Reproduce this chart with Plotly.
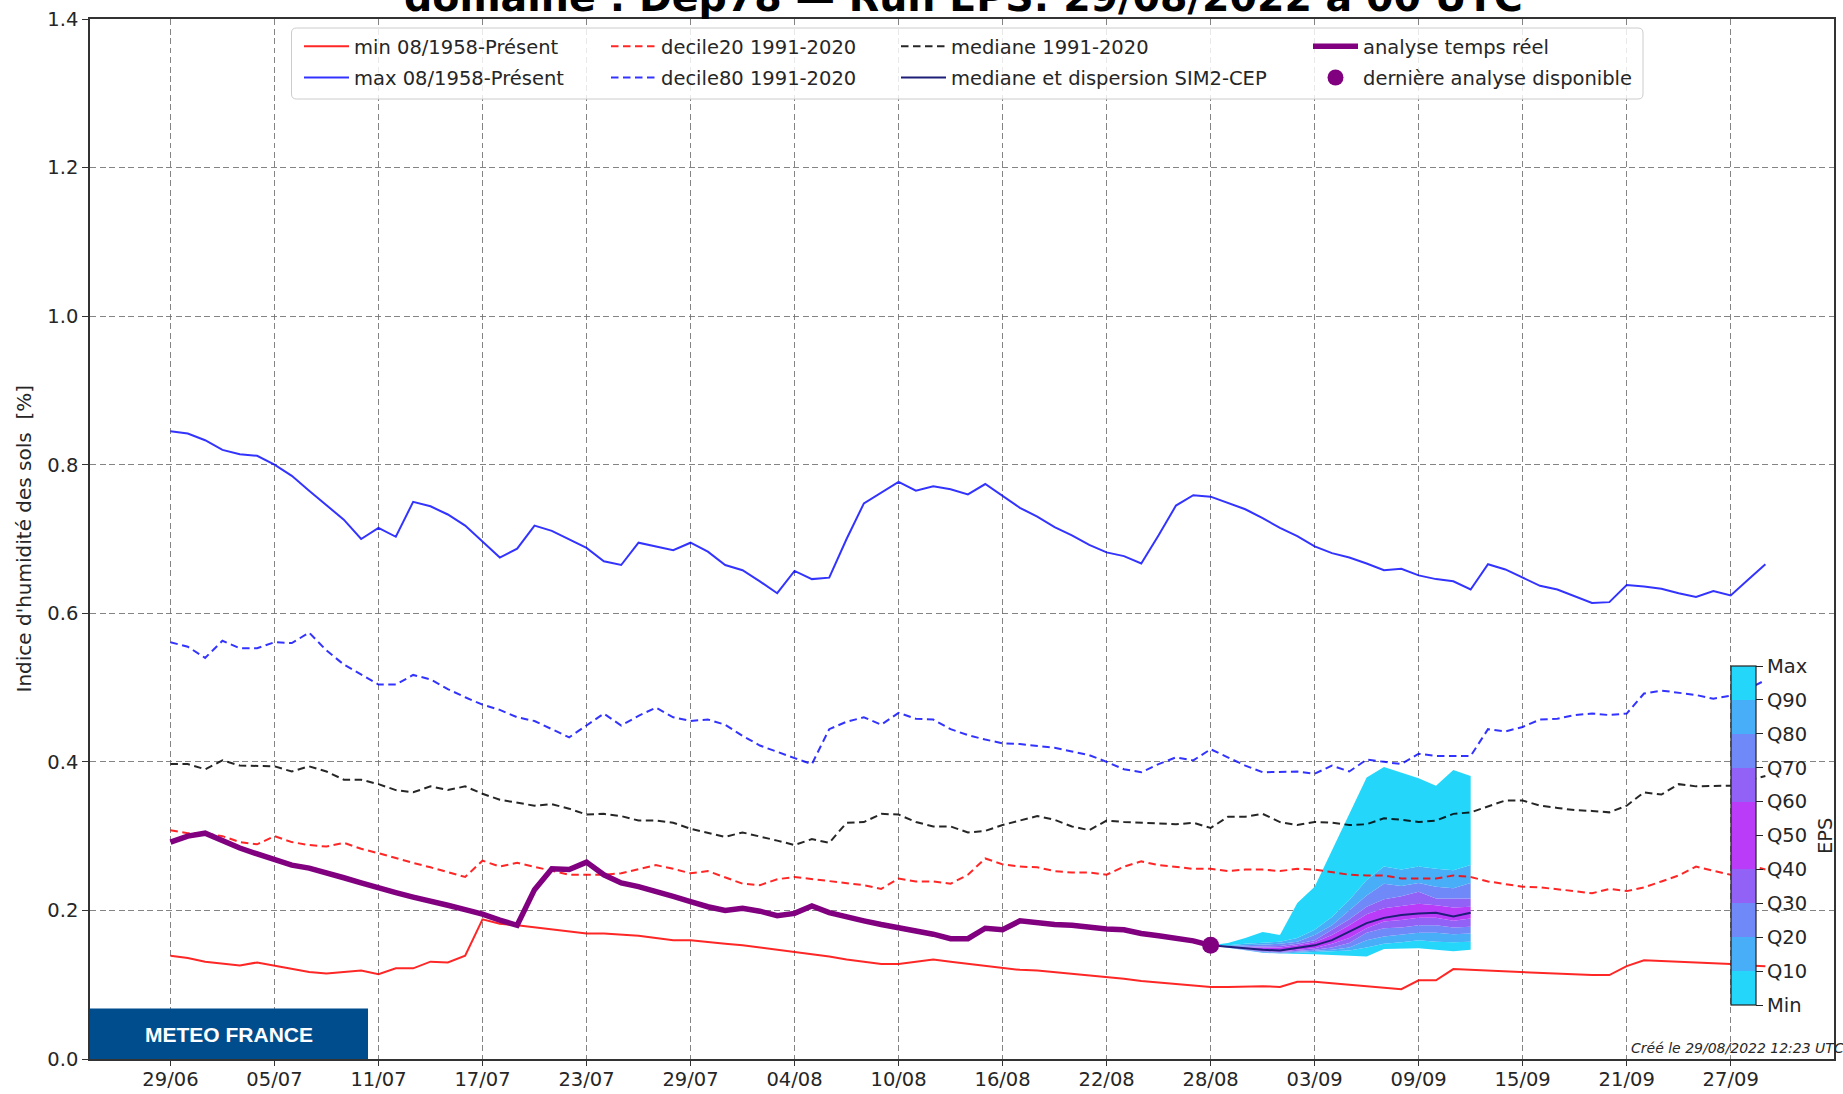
import pandas as pd
import plotly.graph_objects as go

# ---------------- data ----------------
start_day = "2022-06-29"
eps_start_day = "2022-08-28"

tick_labels = ["29/06", "05/07", "11/07", "17/07", "23/07", "29/07", "04/08", "10/08",
               "16/08", "22/08", "28/08", "03/09", "09/09", "15/09", "21/09", "27/09"]

clim_min = [0.139, 0.136, 0.131, 0.128, 0.126, 0.130, 0.126, 0.122, 0.117, 0.115,
            0.117, 0.119, 0.114, 0.122, 0.122, 0.131, 0.130, 0.139, 0.188, 0.182,
            0.180, 0.177, 0.174, 0.171, 0.169, 0.169, 0.168, 0.166, 0.163, 0.160,
            0.160, 0.157, 0.155, 0.153, 0.150, 0.147, 0.145, 0.141, 0.138, 0.134,
            0.131, 0.128, 0.128, 0.131, 0.134, 0.131, 0.128, 0.125, 0.123, 0.120,
            0.119, 0.117, 0.115, 0.112, 0.110, 0.108, 0.105, 0.103, 0.100, 0.098,
            0.097, 0.097, 0.098, 0.098, 0.097, 0.104, 0.104, 0.102, 0.100, 0.098,
            0.096, 0.094, 0.106, 0.106, 0.121, 0.120, 0.119, 0.118, 0.117, 0.116,
            0.115, 0.114, 0.113, 0.113, 0.125, 0.133, 0.132, 0.131, 0.130, 0.130,
            0.128, 0.126, 0.125]

clim_max = [0.845, 0.842, 0.833, 0.820, 0.814, 0.812, 0.800, 0.785, 0.765, 0.745,
            0.726, 0.700, 0.715, 0.703, 0.750, 0.744, 0.733, 0.718, 0.697, 0.675,
            0.687, 0.718, 0.711, 0.700, 0.688, 0.670, 0.665, 0.695, 0.690, 0.685,
            0.695, 0.683, 0.665, 0.658, 0.643, 0.627, 0.657, 0.646, 0.648, 0.700,
            0.748, 0.762, 0.777, 0.765, 0.771, 0.767, 0.760, 0.774, 0.758, 0.742,
            0.730, 0.716, 0.705, 0.692, 0.682, 0.677, 0.667, 0.705, 0.745, 0.759,
            0.757, 0.748, 0.740, 0.728, 0.715, 0.704, 0.690, 0.681, 0.675, 0.667,
            0.658, 0.660, 0.651, 0.646, 0.643, 0.632, 0.666, 0.659, 0.648, 0.637,
            0.632, 0.623, 0.614, 0.615, 0.638, 0.636, 0.633, 0.627, 0.622, 0.630,
            0.624, 0.645, 0.666]

clim_decile20 = [0.308, 0.304, 0.304, 0.300, 0.292, 0.289, 0.300, 0.292, 0.288, 0.286,
                 0.291, 0.283, 0.277, 0.270, 0.264, 0.258, 0.251, 0.245, 0.267, 0.259,
                 0.264, 0.259, 0.253, 0.248, 0.248, 0.248, 0.250, 0.255, 0.261, 0.256,
                 0.250, 0.253, 0.245, 0.236, 0.234, 0.242, 0.245, 0.242, 0.239, 0.237,
                 0.234, 0.229, 0.243, 0.239, 0.239, 0.236, 0.248, 0.270, 0.262, 0.259,
                 0.258, 0.253, 0.251, 0.251, 0.248, 0.259, 0.266, 0.261, 0.258, 0.256,
                 0.256, 0.253, 0.255, 0.255, 0.253, 0.256, 0.255, 0.251, 0.248, 0.247,
                 0.247, 0.243, 0.243, 0.243, 0.247, 0.245, 0.239, 0.236, 0.232, 0.231,
                 0.229, 0.226, 0.223, 0.229, 0.226, 0.231, 0.239, 0.247, 0.259, 0.253,
                 0.248, 0.262, 0.255]

clim_decile80 = [0.561, 0.555, 0.540, 0.563, 0.553, 0.553, 0.561, 0.560, 0.574, 0.550,
                 0.531, 0.517, 0.504, 0.504, 0.517, 0.511, 0.498, 0.487, 0.477, 0.470,
                 0.460, 0.455, 0.444, 0.433, 0.449, 0.465, 0.449, 0.462, 0.473, 0.460,
                 0.455, 0.457, 0.450, 0.435, 0.422, 0.413, 0.405, 0.397, 0.444, 0.454,
                 0.460, 0.450, 0.466, 0.458, 0.457, 0.444, 0.436, 0.430, 0.425, 0.424,
                 0.422, 0.419, 0.414, 0.409, 0.400, 0.390, 0.386, 0.397, 0.406, 0.402,
                 0.417, 0.406, 0.395, 0.386, 0.387, 0.387, 0.384, 0.395, 0.387, 0.403,
                 0.400, 0.397, 0.411, 0.408, 0.408, 0.408, 0.444, 0.441, 0.447, 0.457,
                 0.458, 0.463, 0.465, 0.463, 0.465, 0.492, 0.496, 0.493, 0.490, 0.485,
                 0.489, 0.498, 0.510]

clim_median = [0.397, 0.397, 0.390, 0.402, 0.395, 0.395, 0.394, 0.387, 0.394, 0.387,
               0.376, 0.376, 0.370, 0.362, 0.359, 0.367, 0.362, 0.367, 0.357, 0.349,
               0.345, 0.341, 0.343, 0.337, 0.329, 0.330, 0.327, 0.321, 0.321, 0.318,
               0.310, 0.304, 0.299, 0.305, 0.300, 0.294, 0.288, 0.296, 0.291, 0.318,
               0.319, 0.330, 0.329, 0.319, 0.313, 0.313, 0.305, 0.307, 0.315, 0.321,
               0.327, 0.322, 0.313, 0.308, 0.321, 0.319, 0.318, 0.318, 0.316, 0.318,
               0.311, 0.326, 0.326, 0.330, 0.319, 0.315, 0.319, 0.318, 0.315, 0.316,
               0.324, 0.322, 0.319, 0.321, 0.330, 0.332, 0.340, 0.348, 0.348, 0.341,
               0.338, 0.335, 0.334, 0.332, 0.341, 0.359, 0.356, 0.370, 0.367, 0.368,
               0.368, 0.375, 0.381]

analyse = [0.292, 0.300, 0.304, 0.293, 0.284, 0.276, 0.268, 0.261, 0.257, 0.251,
           0.244, 0.237, 0.230, 0.224, 0.218, 0.213, 0.207, 0.201, 0.195, 0.187,
           0.180, 0.228, 0.256, 0.255, 0.265, 0.248, 0.237, 0.232, 0.226, 0.219,
           0.212, 0.205, 0.200, 0.203, 0.199, 0.193, 0.196, 0.206, 0.197, 0.191,
           0.186, 0.181, 0.177, 0.172, 0.168, 0.162, 0.162, 0.176, 0.174, 0.186,
           0.183, 0.181, 0.180, 0.177, 0.175, 0.174, 0.169, 0.166, 0.163, 0.159,
           0.153]

eps_min = [0.153, 0.150, 0.146, 0.143, 0.142, 0.142, 0.141, 0.140, 0.139, 0.138, 0.148, 0.148, 0.149, 0.147, 0.145, 0.147]
eps_q10 = [0.153, 0.150, 0.146, 0.143, 0.142, 0.143, 0.144, 0.145, 0.146, 0.150, 0.155, 0.157, 0.160, 0.158, 0.157, 0.158]
eps_q20 = [0.153, 0.150, 0.147, 0.144, 0.143, 0.144, 0.145, 0.147, 0.150, 0.160, 0.165, 0.167, 0.170, 0.170, 0.168, 0.169]
eps_q30 = [0.153, 0.150, 0.147, 0.145, 0.144, 0.145, 0.147, 0.150, 0.156, 0.170, 0.176, 0.177, 0.180, 0.180, 0.177, 0.178]
eps_q40 = [0.153, 0.150, 0.148, 0.146, 0.145, 0.147, 0.149, 0.155, 0.163, 0.176, 0.185, 0.187, 0.190, 0.190, 0.186, 0.189]
eps_q50 = [0.153, 0.151, 0.149, 0.147, 0.146, 0.149, 0.153, 0.160, 0.171, 0.183, 0.190, 0.194, 0.196, 0.197, 0.192, 0.197]
eps_q60 = [0.153, 0.151, 0.150, 0.150, 0.150, 0.153, 0.157, 0.167, 0.180, 0.195, 0.203, 0.206, 0.209, 0.207, 0.204, 0.205]
eps_q70 = [0.153, 0.151, 0.151, 0.152, 0.152, 0.155, 0.160, 0.174, 0.188, 0.205, 0.215, 0.219, 0.225, 0.216, 0.216, 0.216]
eps_q80 = [0.153, 0.152, 0.153, 0.154, 0.155, 0.158, 0.167, 0.180, 0.200, 0.220, 0.236, 0.233, 0.237, 0.232, 0.230, 0.237]
eps_q90 = [0.153, 0.153, 0.155, 0.157, 0.158, 0.163, 0.174, 0.191, 0.214, 0.241, 0.259, 0.255, 0.259, 0.256, 0.254, 0.261]
eps_max = [0.153, 0.156, 0.163, 0.171, 0.167, 0.210, 0.232, 0.281, 0.330, 0.379, 0.393, 0.386, 0.378, 0.368, 0.389, 0.381]

cb_labels = ["Min", "Q10", "Q20", "Q30", "Q40", "Q50", "Q60", "Q70", "Q80", "Q90", "Max"]

# ---------------- styles ----------------
FONT = "DejaVu Sans"
TXT = "#262626"
C_CYAN = "#24d7fa"
C_LB = "#48aef8"
C_PERI = "#6f8af8"
C_PURP = "#9262f6"
C_MAG = "#bb3cf8"
RED = "rgba(255,0,0,0.85)"
BLUE = "rgba(0,0,255,0.8)"
BLACK = "rgba(0,0,0,0.85)"
NAVY = "rgb(30,30,120)"
PURPLE = "#800080"
DASH = "7.5px,4.5px"

W, H = 1843, 1094
L, R, T, B = 90, 9, 19, 35
PW, PH = W - L - R, H - T - B


def px_x(px):
    return (px - L) / PW


def px_y(py):
    return (H - B - py) / PH


dates_clim = pd.date_range(start_day, periods=len(clim_max), freq="D")
dates_ana = pd.date_range(start_day, periods=len(analyse), freq="D")
dates_eps = pd.date_range(eps_start_day, periods=len(eps_q50), freq="D")
tick_vals = pd.date_range(start_day, periods=len(tick_labels), freq="6D")

fig = go.Figure()

# EPS dispersion bands
bands = [(eps_min, None), (eps_q10, C_CYAN), (eps_q20, C_LB), (eps_q30, C_PERI),
         (eps_q40, C_PURP), (eps_q50, C_MAG), (eps_q60, C_MAG), (eps_q70, C_PURP),
         (eps_q80, C_PERI), (eps_q90, C_LB), (eps_max, C_CYAN)]
for vals, col in bands:
    fig.add_trace(go.Scatter(
        x=dates_eps, y=vals, mode="lines",
        line=dict(width=0, color=col or C_CYAN),
        fill=None if col is None else "tonexty", fillcolor=col,
        showlegend=False, hoverinfo="skip"))


def add_line(x, y, name, color, width, dash, legend, group):
    fig.add_trace(go.Scatter(
        x=x, y=y, mode="lines", name=name,
        line=dict(color=color, width=width, dash=dash),
        legend=legend, legendgroup=group))


add_line(dates_clim, clim_min, "min 08/1958-Présent", RED, 2, "solid", "legend", "g1")
add_line(dates_clim, clim_max, "max 08/1958-Présent", BLUE, 2, "solid", "legend", "g2")
add_line(dates_clim, clim_decile20, "decile20 1991-2020", RED, 2, DASH, "legend2", "g3")
add_line(dates_clim, clim_decile80, "decile80 1991-2020", BLUE, 2, DASH, "legend2", "g4")
add_line(dates_clim, clim_median, "mediane 1991-2020", BLACK, 2, DASH, "legend3", "g5")
add_line(dates_eps, eps_q50, "mediane et dispersion SIM2-CEP", NAVY, 2, "solid", "legend3", "g6")
add_line(dates_ana, analyse, "analyse temps réel", PURPLE, 5.5, "solid", "legend4", "g7")
fig.add_trace(go.Scatter(
    x=dates_ana[-1:], y=analyse[-1:], mode="markers", name="dernière analyse disponible",
    marker=dict(color=PURPLE, size=17), legend="legend4", legendgroup="g8"))

# colour bar for the EPS quantiles
n = len(cb_labels) - 1
band_cols = [C_CYAN, C_LB, C_PERI, C_PURP, C_MAG, C_MAG, C_PURP, C_PERI, C_LB, C_CYAN]
cscale = []
for i, c in enumerate(band_cols):
    cscale.append([i / n, c])
    cscale.append([(i + 1) / n, c])
fig.add_trace(go.Scatter(
    x=[dates_eps[0], dates_eps[-1]], y=[eps_q50[0], eps_q50[-1]], mode="markers",
    marker=dict(size=1, opacity=0, color=[0, n], cmin=0, cmax=n, colorscale=cscale,
                showscale=True,
                colorbar=dict(x=px_x(1731), xanchor="left", xpad=0,
                              y=px_y(835.5), yanchor="middle", ypad=0,
                              len=339, lenmode="pixels", thickness=25,
                              outlinewidth=1.2, outlinecolor="#222",
                              tickmode="array", tickvals=list(range(n + 1)), ticktext=cb_labels,
                              ticks="outside", ticklen=7, tickwidth=1.2, tickcolor="#222",
                              tickfont=dict(family=FONT, size=19.5, color=TXT),
                              bgcolor="rgba(0,0,0,0)")),
    showlegend=False, hoverinfo="skip"))

# ---------------- layout ----------------
leg_common = dict(bgcolor="rgba(0,0,0,0)", borderwidth=0,
                  font=dict(family=FONT, size=19.5, color=TXT),
                  xanchor="left", yanchor="top", orientation="v",
                  traceorder="grouped", tracegroupgap=3, itemwidth=45)
leg_top = px_y(27)
text_starts = [354, 661, 951, 1363]
legends = {}
for i, key in enumerate(["legend", "legend2", "legend3", "legend4"]):
    legends[key] = dict(leg_common, x=px_x(text_starts[i] - 55), y=leg_top)

# rounded legend frame
bx0, bx1, by0, by1 = px_x(291.5), px_x(1643), px_y(99), px_y(28)
rx, ry = 5 / PW, 5 / PH
frame = (f"M{bx0 + rx},{by1} L{bx1 - rx},{by1} Q{bx1},{by1} {bx1},{by1 - ry} "
         f"L{bx1},{by0 + ry} Q{bx1},{by0} {bx1 - rx},{by0} L{bx0 + rx},{by0} "
         f"Q{bx0},{by0} {bx0},{by0 + ry} L{bx0},{by1 - ry} Q{bx0},{by1} {bx0 + rx},{by1} Z")

shapes = [
    dict(type="path", path=frame, xref="paper", yref="paper", layer="above",
         fillcolor="rgba(255,255,255,0.82)", line=dict(color="#cccccc", width=1)),
    dict(type="rect", xref="paper", yref="paper", x0=0, x1=px_x(368), y0=0, y1=px_y(1008.5),
         layer="above", fillcolor="#004d8d", line=dict(width=0)),
]

annotations = [
    dict(text="<b>domaine : Dep78 — Run EPS: 29/08/2022 à 00 UTC</b>", xref="paper", yref="paper",
         x=px_x(964), y=px_y(22.5), xanchor="center", yanchor="bottom", showarrow=False,
         font=dict(family=FONT, size=39.5, color="#000")),
    dict(text="<b>METEO FRANCE</b>", xref="paper", yref="paper", x=px_x(229), y=px_y(1034),
         xanchor="center", yanchor="middle", showarrow=False,
         font=dict(family="Liberation Sans", size=21, color="white")),
    dict(text="<i>Créé le 29/08/2022 12:23 UTC</i>", xref="paper", yref="paper",
         x=px_x(1846), y=px_y(1048), xanchor="right", yanchor="middle", showarrow=False,
         font=dict(family=FONT, size=14, color=TXT)),
    dict(text="EPS", xref="paper", yref="paper", x=px_x(1825), y=px_y(836), textangle=-90,
         xanchor="center", yanchor="middle", showarrow=False,
         font=dict(family=FONT, size=19.5, color=TXT)),
    dict(text="Indice d'humidité des sols\u00a0 [%]", xref="paper", yref="paper",
         x=px_x(23.5), y=px_y(539), textangle=-90, xanchor="center", yanchor="middle",
         showarrow=False, font=dict(family=FONT, size=20, color=TXT)),
]

grid_col = "rgba(110,110,110,0.85)"
fig.update_layout(
    width=W, height=H, margin=dict(l=L, r=R, t=T, b=B, pad=0, autoexpand=False),
    paper_bgcolor="white", plot_bgcolor="white",
    font=dict(family=FONT, color=TXT),
    xaxis=dict(type="date", range=["2022-06-24 08:38", "2022-10-02 23:00"],
               tickmode="array", tickvals=tick_vals, ticktext=tick_labels,
               ticks="outside", ticklen=5, tickwidth=1.2, tickcolor="#333",
               ticklabelstandoff=-3,
               showgrid=True, gridcolor=grid_col, griddash="6px,3.5px", gridwidth=1,
               showline=True, linecolor="#333", linewidth=1.5, mirror=True, zeroline=False,
               automargin=False,
               tickfont=dict(family=FONT, size=19.5, color=TXT)),
    yaxis=dict(range=[0, 1.4], tick0=0, dtick=0.2, tickformat=".1f",
               ticks="outside", ticklen=6, tickwidth=1.2, tickcolor="#333",
               showgrid=True, gridcolor=grid_col, griddash="6px,3.5px", gridwidth=1,
               showline=True, linecolor="#333", linewidth=1.5, mirror=True, zeroline=False,
               automargin=False,
               tickfont=dict(family=FONT, size=19.5, color=TXT)),
    shapes=shapes, annotations=annotations, hovermode=False,
    **legends,
)

fig.write_html(
    "out.html",
    config={"displayModeBar": False},
    post_script="document.body.style.margin='0';document.body.style.overflow='hidden';"
                "document.documentElement.style.overflow='hidden';",
)
